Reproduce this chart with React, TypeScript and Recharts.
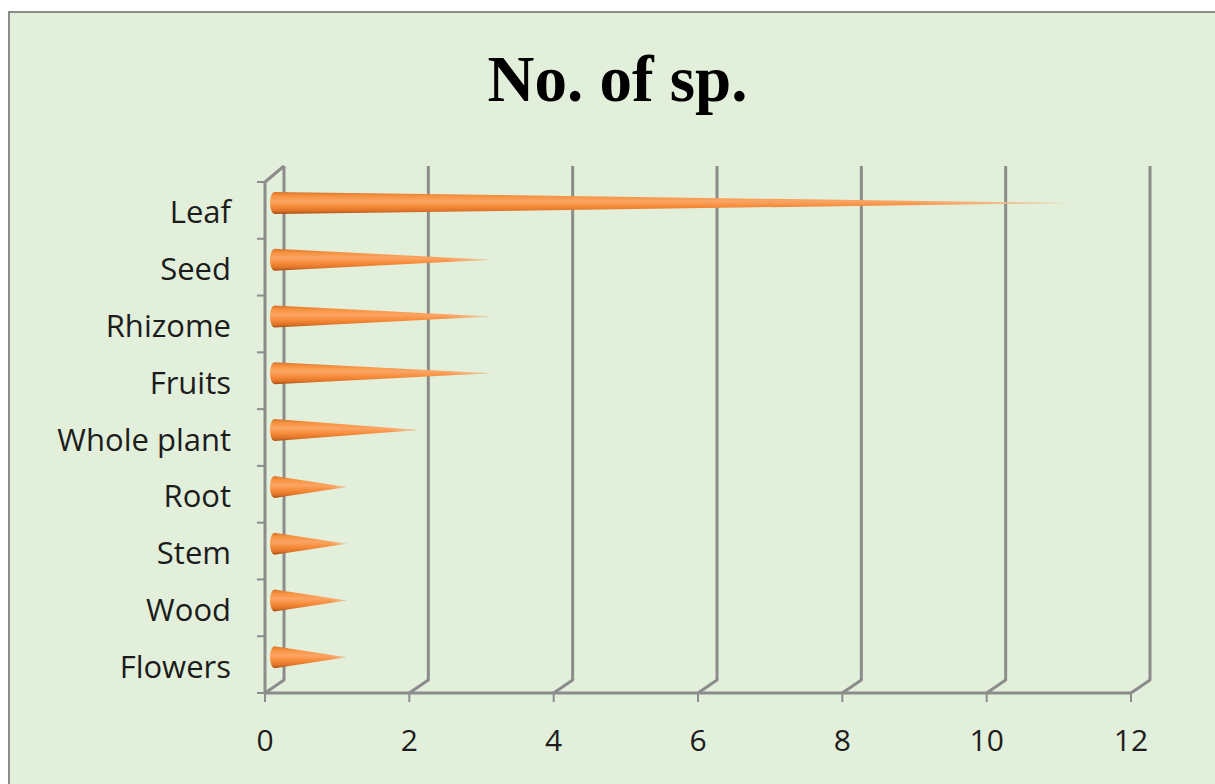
import React from 'react';
import { BarChart, Bar, XAxis, YAxis, CartesianGrid } from 'recharts';

// Plant parts and number of species using each
const categories = ['Leaf', 'Seed', 'Rhizome', 'Fruits', 'Whole plant', 'Root', 'Stem', 'Wood', 'Flowers'];
const speciesCount = [11, 3, 3, 3, 2, 1, 1, 1, 1];
const xTicks = [0, 2, 4, 6, 8, 10, 12];

const data = categories.map((name, i) => ({ name, count: speciesCount[i] }));

const GRID = '#8c8c8c';
const BG = '#e2efda';
const TEXT = '#1c1c1c';
const FONT = '"Open Sans", "Noto Sans", sans-serif';

// fake 3D depth of the back wall
const DEPTH_X = 19;
const DEPTH_TOP = 16;
const DEPTH_BOTTOM = 13;

// Cone drawn along the bar, sitting halfway into the depth
const Cone = (props: any) => {
  const { x, y, width, height } = props;
  if (width == null || height == null) return null;
  const r = height / 2;
  const x0 = x + DEPTH_X / 2;
  const cy = y + r - 7;
  const tip = x + width + DEPTH_X / 2;
  const rx = 4.5;
  const d = `M ${x0},${cy - r} L ${tip},${cy} L ${x0},${cy + r} A ${rx} ${r} 0 0 1 ${x0},${cy - r} Z`;
  return (
    <g>
      <path d={d} fill="url(#coneFill)" />
      <path d={d} fill="url(#coneFade)" />
    </g>
  );
};

const VerticalGridLine = (props: any) => {
  const { x1, y1, y2, index } = props;
  const bx = x1 + DEPTH_X;
  let d = `M ${bx},${y1 - DEPTH_TOP} L ${bx},${y2 - DEPTH_BOTTOM} L ${x1},${y2}`;
  if (index === 0) d += ` M ${x1},${y1} L ${bx},${y1 - DEPTH_TOP}`;
  return <path key={`v-${index}`} d={d} fill="none" stroke={GRID} strokeWidth={3} strokeLinejoin="round" />;
};

// small category separators left of the value axis
const CategoryTick = (props: any) => {
  const { x1, y1, index } = props;
  return <line key={`h-${index}`} x1={x1 - 8} y1={y1} x2={x1} y2={y1} stroke={GRID} strokeWidth={2} />;
};

export default function App() {
  return (
    <div
      style={{
        position: 'fixed',
        left: 8,
        top: 11,
        right: 0,
        bottom: 0,
        background: BG,
        borderTop: `2px solid ${GRID}`,
        borderLeft: `2px solid ${GRID}`,
        overflow: 'hidden',
      }}
    >
      <div
        style={{
          position: 'absolute',
          left: 0,
          top: 34,
          width: 1215,
          textAlign: 'center',
          fontFamily: '"Liberation Serif", "Times New Roman", serif',
          fontWeight: 'bold',
          fontSize: 65,
          lineHeight: '65px',
          color: '#000',
        }}
      >
        No. of sp.
      </div>
      <BarChart
        width={1205}
        height={771}
        data={data}
        layout="vertical"
        margin={{ top: 169, right: 84, bottom: 31, left: 0 }}
        barSize={22}
      >
        <defs>
          <linearGradient id="coneFill" x1="0" y1="0" x2="0" y2="1">
            <stop offset="0%" stopColor="#d8742e" />
            <stop offset="18%" stopColor="#f7923f" />
            <stop offset="42%" stopColor="#fba565" />
            <stop offset="65%" stopColor="#f78c3a" />
            <stop offset="86%" stopColor="#df7327" />
            <stop offset="100%" stopColor="#a44c12" />
          </linearGradient>
          <linearGradient id="coneFade" x1="0" y1="0" x2="1" y2="0">
            <stop offset="0%" stopColor={BG} stopOpacity={0} />
            <stop offset="80%" stopColor={BG} stopOpacity={0} />
            <stop offset="100%" stopColor={BG} stopOpacity={0.6} />
          </linearGradient>
        </defs>
        <CartesianGrid
          vertical={VerticalGridLine}
          horizontal={CategoryTick}
          horizontalCoordinatesGenerator={({ offset }: any) =>
            categories.concat('').map((_, i) => offset.top + (i * offset.height) / categories.length)
          }
        />
        <XAxis
          type="number"
          domain={[0, 12]}
          ticks={xTicks}
          height={60}
          axisLine={{ stroke: GRID, strokeWidth: 3 }}
          tickLine={{ stroke: GRID, strokeWidth: 2 }}
          tickSize={9}
          tickMargin={28}
          tick={{ fill: TEXT, fontSize: 30, fontFamily: FONT }}
        />
        <YAxis
          type="category"
          dataKey="name"
          width={255}
          axisLine={{ stroke: GRID, strokeWidth: 3 }}
          tickLine={false}
          tickSize={0}
          tickMargin={34}
          interval={0}
          tick={{ fill: TEXT, fontSize: 31, fontFamily: FONT, dy: 2 }}
        />
        <Bar dataKey="count" shape={Cone} isAnimationActive={false} />
      </BarChart>
    </div>
  );
}
